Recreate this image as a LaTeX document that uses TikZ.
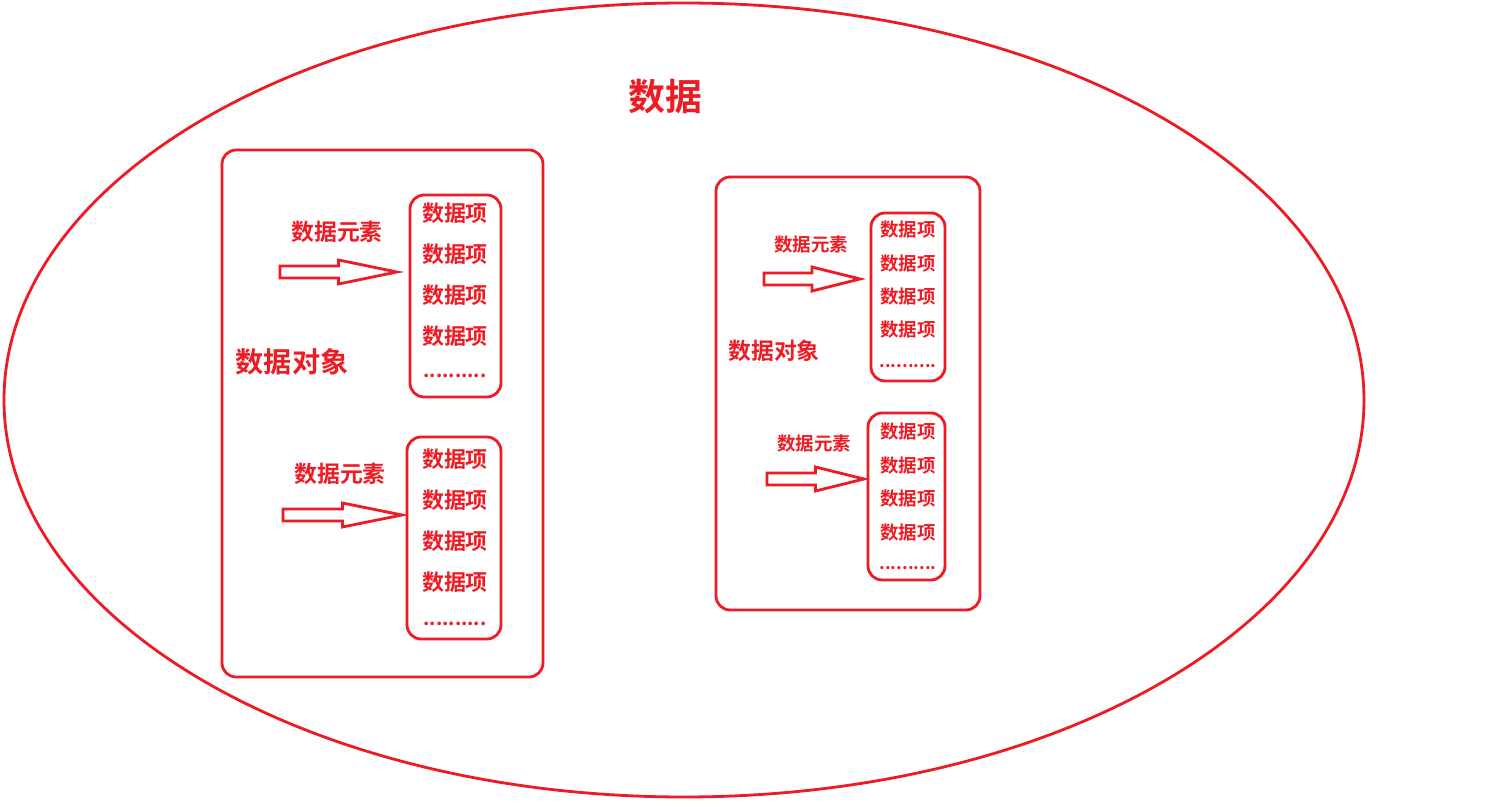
\documentclass[tikz,border=0pt]{standalone}
\usepackage{fontspec}
\newfontfamily\cjk{Noto Sans CJK SC}[BoldFont={* Bold}]
\usetikzlibrary{positioning}
\definecolor{dred}{HTML}{ED1C24}

\tikzset{
	frame/.style={draw=dred, line width=1.6pt, rounded corners=8pt},
	label/.style={text=dred, font=\cjk\bfseries},
	hollow/.style={draw=dred, line width=1.6pt, fill=white}
}
% hollow arrow: #1 tail point, #2 length
\newcommand{\hollowarrow}[2]{%
	\draw[hollow] #1 ++(0,-6) -- ++(0.5*#2,0) -- ++(0,-6) -- ++(0.5*#2,12)
		-- ++(-0.5*#2,12) -- ++(0,-6) -- ++(-0.5*#2,0) -- cycle;}

\begin{document}
\begin{tikzpicture}[x=0.02cm, y=-0.02cm]
	\useasboundingbox (0,0) rectangle (1487,807);

	\draw[dred, line width=1.6pt] (684,400) ellipse [x radius=680, y radius=397];
	\node[label, font=\cjk\bfseries\fontsize{21}{24}\selectfont] (title) at (665,97) {数据};

	% left data object
	\draw[frame] (222,150) rectangle (543,677);
	\node[label, font=\cjk\bfseries\fontsize{16}{18}\selectfont] (objL) at (292,362) {数据对象};

	\draw[frame] (410,195) rectangle (501,397);
	\foreach \y in {213,254,295,336}
		\node[label, font=\cjk\bfseries\fontsize{12.5}{14}\selectfont] at (455,\y) {数据项};
	\node[label, font=\cjk\bfseries\fontsize{11}{13}\selectfont] at (455,376) {..........};
	\node[label, font=\cjk\bfseries\fontsize{13}{15}\selectfont] (elL1) at (337,232) {数据元素};
	\hollowarrow{(280,272)}{117}

	\draw[frame] (407,437) rectangle (501,639);
	\foreach \y in {459,500,541,582}
		\node[label, font=\cjk\bfseries\fontsize{12.5}{14}\selectfont] at (455,\y) {数据项};
	\node[label, font=\cjk\bfseries\fontsize{11}{13}\selectfont] at (455,624) {..........};
	\node[label, font=\cjk\bfseries\fontsize{13}{15}\selectfont] (elL2) at (340,474) {数据元素};
	\hollowarrow{(283,515)}{119}

	% right data object
	\draw[frame] (716,177) rectangle (980,610);
	\node[label, font=\cjk\bfseries\fontsize{13}{15}\selectfont] (objR) at (774,351) {数据对象};

	\draw[frame] (871,213) rectangle (945,381);
	\foreach \y in {230,264,297,330}
		\node[label, font=\cjk\bfseries\fontsize{10.5}{12}\selectfont] at (908,\y) {数据项};
	\node[label, font=\cjk\bfseries\fontsize{10}{12}\selectfont] at (908,366) {..........};
	\node[label, font=\cjk\bfseries\fontsize{10.5}{12}\selectfont] (elR1) at (811,245) {数据元素};
	\hollowarrow{(764,279)}{96}

	\draw[frame] (868,413) rectangle (945,580);
	\foreach \y in {432,466,499,533}
		\node[label, font=\cjk\bfseries\fontsize{10.5}{12}\selectfont] at (908,\y) {数据项};
	\node[label, font=\cjk\bfseries\fontsize{10}{12}\selectfont] at (908,568) {..........};
	\node[label, font=\cjk\bfseries\fontsize{10.5}{12}\selectfont] (elR2) at (814,444) {数据元素};
	\hollowarrow{(767,479)}{97}
\end{tikzpicture}
\end{document}
